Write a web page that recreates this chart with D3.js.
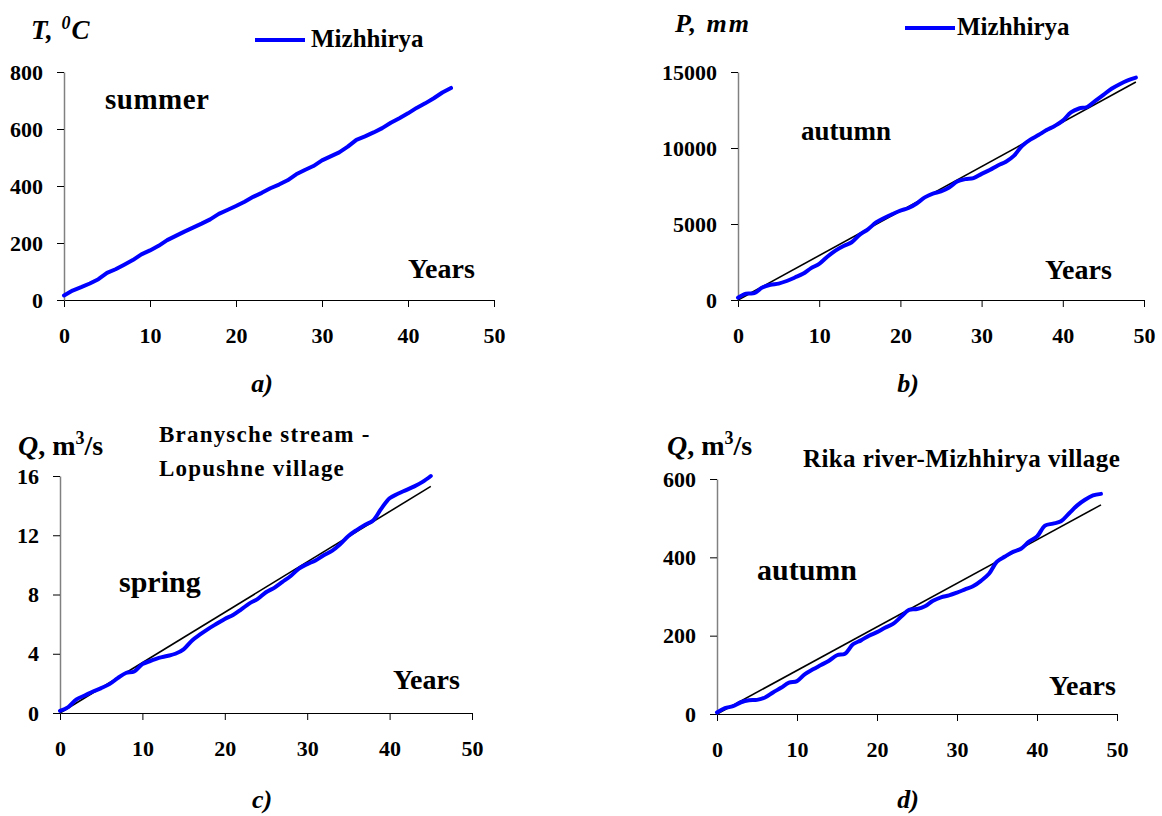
<!DOCTYPE html>
<html>
<head>
<meta charset="utf-8">
<script src="https://cdn.jsdelivr.net/npm/d3@7"></script>
<style>
  body { margin: 0; background: #fff; }
  svg text { font-family: "Liberation Serif", serif; }
  .tick text { font-family: "Liberation Serif", serif !important; font-size: 22px; font-weight: bold; }
</style>
</head>
<body>
<div id="chart"></div>
<script>
// Data (cumulative sums by year)

const xTicks = [0, 10, 20, 30, 40, 50];

// a) summer temperature, Mizhhirya (years 0..45)
const summerTemp = [16, 33, 45, 58, 73, 95, 108, 124, 140, 160, 174, 190, 210, 225, 240, 254, 268, 283, 302, 316,
  330, 345, 362, 376, 392, 405, 420, 441, 456, 470, 490, 504, 518, 538, 562, 574, 588, 603, 622, 638,
  655, 674, 690, 708, 728, 744];
const tempTicks = [0, 200, 400, 600, 800];

// b) autumn precipitation, Mizhhirya (years 0..49)
const autumnPrecip = [150, 420, 450, 820, 1000, 1080, 1250, 1480, 1720, 2100, 2380, 2850, 3250, 3550, 3800, 4300,
  4650, 5100, 5400, 5650, 5880, 6050, 6350, 6750, 7000, 7150, 7400, 7800, 7950, 8020, 8300, 8550, 8850,
  9100, 9500, 10150, 10550, 10850, 11180, 11450, 11800, 12350, 12600, 12700, 13100, 13500, 13900, 14200,
  14450, 14630];
const precipTrendYears = [0, 49];
const precipTrend = [0, 14340];
const precipTicks = [0, 5000, 10000, 15000];

// c) spring discharge, Branysche stream - Lopushne village (years 0..45)
const springFlow = [0.15, 0.4, 0.92, 1.18, 1.45, 1.68, 1.95, 2.35, 2.7, 2.8, 3.3, 3.52, 3.72, 3.85, 4.0, 4.3,
  4.88, 5.3, 5.68, 6.02, 6.35, 6.62, 7.0, 7.4, 7.7, 8.15, 8.45, 8.85, 9.25, 9.75, 10.05, 10.3, 10.65, 10.95,
  11.4, 11.95, 12.35, 12.7, 13.0, 13.8, 14.5, 14.8, 15.05, 15.3, 15.6, 16.0];
const springTrendYears = [0, 45];
const springTrend = [0, 15.3];
const springTicks = [0, 4, 8, 12, 16];

// d) autumn discharge, Rika river - Mizhhirya village (years 0..48)
const autumnFlow = [4, 15, 20, 30, 35, 36, 42, 55, 67, 80, 84, 102, 114, 125, 136, 150, 154, 178, 188, 200,
  209, 220, 230, 248, 266, 268, 275, 289, 298, 303, 310, 318, 326, 340, 358, 389, 402, 414, 422, 440,
  453, 481, 486, 492, 512, 532, 547, 558, 562];
const flowTrendYears = [0, 48];
const flowTrend = [0, 534];
const flowTicks = [0, 200, 400, 600];

// Canvas

const width = 1162;
const height = 816;

const svg = d3
  .select("#chart")
  .append("svg")
  .attr("width", width)
  .attr("height", height);

function addText(x, y, txt, size, opts = {}) {
  return svg
    .append("text")
    .attr("x", x)
    .attr("y", y)
    .attr("text-anchor", opts.anchor || "start")
    .style("font-size", `${size}px`)
    .style("font-weight", "bold")
    .style("font-style", opts.italic ? "italic" : "normal")
    .style("letter-spacing", opts.spacing ? `${opts.spacing}px` : null)
    .text(txt);
}

function drawPanel(p) {
  const xScale = d3.scaleLinear().domain([0, 50]).range([p.left, p.right]);
  const yScale = d3.scaleLinear().domain([0, p.yMax]).range([p.bottom, p.top]);

  const g = svg.append("g");

  const xAxis = g
    .append("g")
    .attr("transform", `translate(0, ${p.bottom})`)
    .call(d3.axisBottom(xScale).tickValues(xTicks).tickSize(7).tickPadding(20).tickSizeOuter(0));
  xAxis.select(".domain").attr("stroke", "#000").attr("stroke-width", 1.2);

  const yAxis = g
    .append("g")
    .attr("transform", `translate(${p.left}, 0)`)
    .call(
      d3.axisLeft(yScale).tickValues(p.ticks).tickFormat(d3.format("d"))
        .tickSize(7).tickPadding(14).tickSizeOuter(0)
    );
  yAxis.select(".domain").attr("stroke", "#808080").attr("stroke-width", 1.5);

  g.selectAll("g").attr("font-family", null).attr("font-size", null);
  g.selectAll(".tick text").attr("fill", "#000");

  if (p.trend) {
    g.append("path")
      .datum(p.trendYears.map((yr, i) => [yr, p.trend[i]]))
      .attr("fill", "none")
      .attr("stroke", "#000")
      .attr("stroke-width", 1.6)
      .attr("d", d3.line().x((d) => xScale(d[0])).y((d) => yScale(d[1])));
  }

  g.append("path")
    .datum(p.values)
    .attr("fill", "none")
    .attr("stroke", "#0000ff")
    .attr("stroke-width", 4)
    .attr("stroke-linejoin", "round")
    .attr("stroke-linecap", "round")
    .attr(
      "d",
      d3
        .line()
        .x((d, i) => xScale(i))
        .y((d) => yScale(d))
        .curve(p.smooth ? d3.curveCatmullRom.alpha(0.5) : d3.curveLinear)
    );
}

drawPanel({ values: summerTemp, ticks: tempTicks, yMax: 800, left: 64, right: 494, top: 72, bottom: 300, smooth: false });
drawPanel({
  values: autumnPrecip, ticks: precipTicks, yMax: 15000, left: 738, right: 1144, top: 72, bottom: 300,
  trend: precipTrend, trendYears: precipTrendYears, smooth: true,
});
drawPanel({
  values: springFlow, ticks: springTicks, yMax: 16, left: 60, right: 472, top: 476, bottom: 713,
  trend: springTrend, trendYears: springTrendYears, smooth: true,
});
drawPanel({
  values: autumnFlow, ticks: flowTicks, yMax: 600, left: 717, right: 1117, top: 479, bottom: 714,
  trend: flowTrend, trendYears: flowTrendYears, smooth: true,
});

// Axis titles

const tLabel = addText(31, 39, "T, ", 27, { italic: true, spacing: 1 });
tLabel.append("tspan").attr("dy", -10).style("font-size", "18px").text("0");
tLabel.append("tspan").attr("dy", 10).text("C");

addText(675, 32, "P, mm", 26, { italic: true, spacing: 2 });

[[18, 455], [667, 455]].forEach(([x, y]) => {
  const q = addText(x, y, "", 28);
  q.append("tspan").style("font-style", "italic").text("Q");
  q.append("tspan").text(", m");
  q.append("tspan").attr("dy", -11).style("font-size", "18px").text("3");
  q.append("tspan").attr("dy", 11).text("/s");
});

// Season and station labels

addText(105, 109, "summer", 29, { spacing: 0.5 });
addText(801, 140, "autumn", 27);
addText(119, 592, "spring", 30);
addText(757, 580, "autumn", 30);

addText(159, 442, "Branysche stream -", 23, { spacing: 1.2 });
addText(159, 476, "Lopushne village", 23, { spacing: 1.2 });
addText(803, 467, "Rika river-Mizhhirya village", 25, { spacing: 0.4 });

addText(408, 278, "Years", 28);
addText(1045, 279, "Years", 28);
addText(393, 689, "Years", 28);
addText(1049, 695, "Years", 28);

// Legends

[[255, 305, 40, 311, 47], [905, 955, 28, 957, 35]].forEach(([x1, x2, y, tx, ty]) => {
  svg.append("line")
    .attr("x1", x1).attr("x2", x2).attr("y1", y).attr("y2", y)
    .attr("stroke", "#0000ff").attr("stroke-width", 4);
  addText(tx, ty, "Mizhhirya", 25);
});

// Panel captions

addText(262, 392, "a)", 26, { italic: true, anchor: "middle" });
addText(908, 392, "b)", 26, { italic: true, anchor: "middle" });
addText(262, 808, "c)", 26, { italic: true, anchor: "middle" });
addText(908, 808, "d)", 26, { italic: true, anchor: "middle" });
</script>
</body>
</html>
